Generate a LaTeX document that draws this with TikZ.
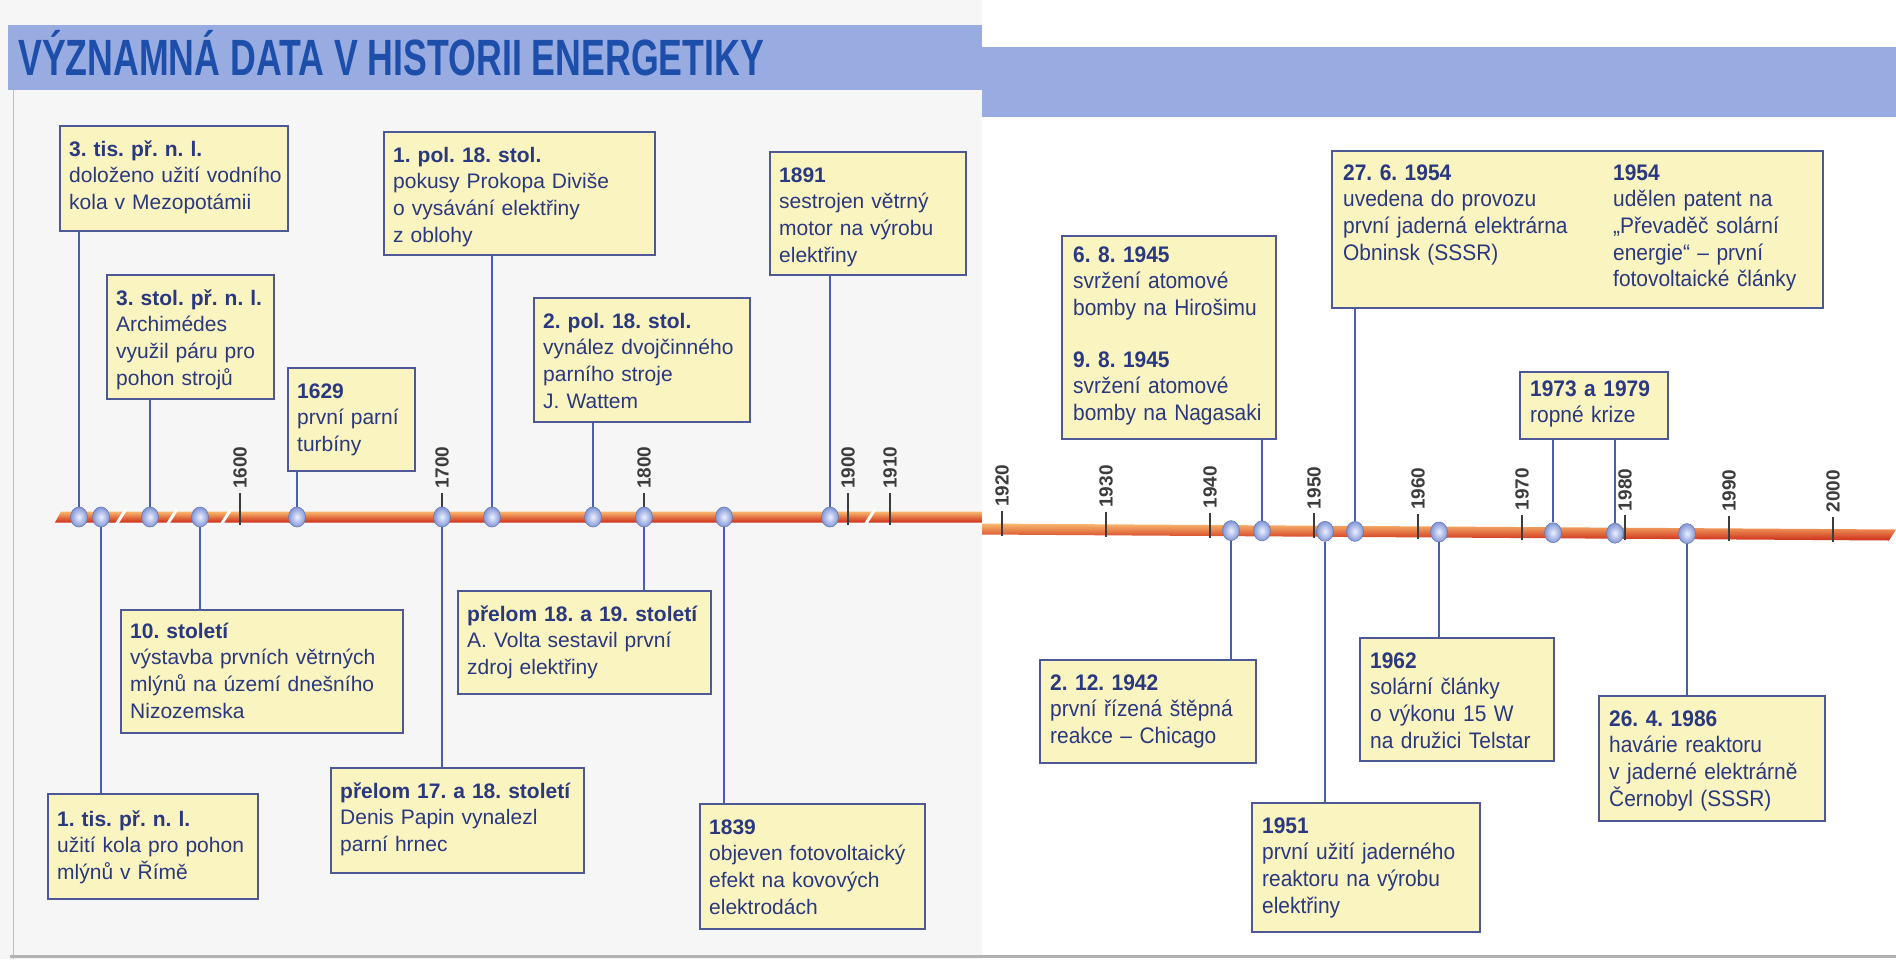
\documentclass[tikz,border=0pt]{standalone}
\usepackage{fontspec}
\setmainfont{Liberation Sans}
\newfontfamily\rightfam[FakeStretch=0.93]{Liberation Sans}
\newfontfamily\titlefam[FakeStretch=0.70]{Liberation Sans}
\usetikzlibrary{shapes.geometric}
\definecolor{boxfill}{RGB}{250,244,192}
\definecolor{boxline}{RGB}{78,88,150}
\definecolor{connc}{RGB}{70,95,180}
\definecolor{txtc}{RGB}{42,56,128}
\definecolor{bandc}{RGB}{152,172,226}
\definecolor{titlec}{RGB}{28,78,170}
\definecolor{dotin}{RGB}{235,240,255}
\definecolor{dotout}{RGB}{130,150,215}
\definecolor{tickc}{RGB}{60,60,60}
\definecolor{pagec}{RGB}{246,246,246}
\definecolor{barTop}{RGB}{250,185,110}
\definecolor{barMid}{RGB}{240,120,45}
\definecolor{barBot}{RGB}{205,45,25}
\newcommand{\lsize}{\frenchspacing\fontsize{21}{26.7}\selectfont}
\newcommand{\rsize}{\frenchspacing\rightfam\fontsize{22.5}{26.7}\selectfont}
\begin{document}
\begin{tikzpicture}[x=1pt,y=-1pt,
  box/.style={draw=boxline, line width=1.8pt, fill=boxfill, anchor=north west, inner sep=0pt},
  txt/.style={anchor=base west, inner sep=0pt, text width=330pt, align=left, text=txtc, font=\lsize},
  rtxt/.style={txt, font=\rsize},
  conn/.style={draw=connc, line width=1.6pt},
  dotn/.style={ellipse, shading=radial, inner color=dotin, outer color=dotout, draw=dotout!80!black, line width=0.6pt, minimum width=17pt, minimum height=20pt, inner sep=0pt},
  tickl/.style={draw=tickc, line width=1.3pt},
  year/.style={rotate=90, anchor=west, inner sep=0pt, text=tickc, font=\bfseries\fontsize{19}{19}\selectfont},
  slash/.style={draw=white, line width=3pt}]
\useasboundingbox (0,0) rectangle (1896,959);
% pages
\fill[pagec] (0,0) rectangle (982,959);
\fill[white] (982,0) rectangle (1896,959);
\draw[black!25, line width=1pt] (13,90) -- (13,959);
\draw[black!30, line width=3pt] (10,956) -- (1896,956);
% bands
\fill[bandc] (8,25) rectangle (982,90);
\fill[bandc] (982,47) rectangle (1896,117);
\node[anchor=base west, inner sep=0pt, text=titlec, font=\titlefam\bfseries\fontsize{51}{51}\selectfont] (title) at (18,75) {VÝZNAMNÁ DATA V HISTORII ENERGETIKY};
% timeline bars
\shade[top color=barTop, middle color=barMid, bottom color=barBot] (61,511.5) -- (982,511.5) -- (982,522.5) -- (55,522.5) -- cycle;
\shade[top color=barTop, middle color=barMid, bottom color=barBot] (982,523.5) -- (1896,529.5) -- (1889,540.5) -- (982,534.5) -- cycle;
% ticks and years, left
\foreach \x/\y in {240/1600,442/1700,644/1800,848/1900,890/1910}{
  \draw[tickl] (\x,493) -- (\x,525);
  \node[year] at (\x,489) {\y};
}
% ticks and years, right
\foreach \x/\yc/\y in {1002/529.1/1920,1106/529.8/1930,1210/530.5/1940,1314/531.2/1950,1418/531.9/1960,1522/532.5/1970,1625/533.2/1980,1729/533.9/1990,1833/534.6/2000}{
  \draw[tickl] (\x,\yc-18) -- (\x,\yc+7);
  \node[year] at (\x,\yc-22) {\y};
}
% breaks
\foreach \x in {121,172,226,870}{
  \draw[slash] (\x-5,525) -- (\x+5,509);
}
% dots left
\node[dotn] (d1) at (79,517) {};
\node[dotn] (d2) at (101,517) {};
\node[dotn] (d3) at (150,517) {};
\node[dotn] (d4) at (200,517) {};
\node[dotn] (d5) at (297,517) {};
\node[dotn] (d6) at (442,517) {};
\node[dotn] (d7) at (492,517) {};
\node[dotn] (d8) at (593,517) {};
\node[dotn] (d9) at (644,517) {};
\node[dotn] (d10) at (724,517) {};
\node[dotn] (d11) at (830,517) {};
% dots right
\node[dotn] (e1) at (1231,530.6) {};
\node[dotn] (e2) at (1262,530.8) {};
\node[dotn] (e3) at (1325,531.3) {};
\node[dotn] (e4) at (1355,531.4) {};
\node[dotn] (e5) at (1439,532.0) {};
\node[dotn] (e6) at (1553,532.7) {};
\node[dotn] (e7) at (1615,533.2) {};
\node[dotn] (e8) at (1687,533.6) {};
% boxes left
\node[box, minimum width=228pt, minimum height=105pt] (b1) at (59,125) {};
\node[box, minimum width=167pt, minimum height=124pt] (b2) at (106,274) {};
\node[box, minimum width=127pt, minimum height=103pt] (b3) at (287,367) {};
\node[box, minimum width=271pt, minimum height=123pt] (b4) at (383,131) {};
\node[box, minimum width=216pt, minimum height=124pt] (b5) at (533,297) {};
\node[box, minimum width=196pt, minimum height=123pt] (b6) at (769,151) {};
\node[box, minimum width=282pt, minimum height=123pt] (b7) at (120,609) {};
\node[box, minimum width=210pt, minimum height=105pt] (b8) at (47,793) {};
\node[box, minimum width=253pt, minimum height=103pt] (b9) at (457,590) {};
\node[box, minimum width=253pt, minimum height=105pt] (b10) at (330,767) {};
\node[box, minimum width=225pt, minimum height=125pt] (b11) at (699,803) {};
% boxes right
\node[box, minimum width=214pt, minimum height=203pt] (c1) at (1061,235) {};
\node[box, minimum width=491pt, minimum height=157pt] (c2) at (1331,150) {};
\node[box, minimum width=148pt, minimum height=67pt] (c3) at (1519,371) {};
\node[box, minimum width=216pt, minimum height=103pt] (c4) at (1039,659) {};
\node[box, minimum width=228pt, minimum height=129pt] (c5) at (1251,802) {};
\node[box, minimum width=194pt, minimum height=123pt] (c6) at (1359,637) {};
\node[box, minimum width=226pt, minimum height=125pt] (c7) at (1598,695) {};
% connectors
\draw[conn] (b1.south -| d1) -- (d1);
\draw[conn] (b2.south -| d3) -- (d3);
\draw[conn] (b3.south -| d5) -- (d5);
\draw[conn] (b4.south -| d7) -- (d7);
\draw[conn] (b5.south -| d8) -- (d8);
\draw[conn] (b6.south -| d11) -- (d11);
\draw[conn] (d4) -- (b7.north -| d4);
\draw[conn] (d2) -- (b8.north -| d2);
\draw[conn] (d9) -- (b9.north -| d9);
\draw[conn] (d6) -- (b10.north -| d6);
\draw[conn] (d10) -- (b11.north -| d10);
\draw[conn] (c1.south -| e2) -- (e2);
\draw[conn] (c2.south -| e4) -- (e4);
\draw[conn] (c3.south -| e6) -- (e6);
\draw[conn] (c3.south -| e7) -- (e7);
\draw[conn] (e1) -- (c4.north -| e1);
\draw[conn] (e3) -- (c5.north -| e3);
\draw[conn] (e5) -- (c6.north -| e5);
\draw[conn] (e8) -- (c7.north -| e8);
% texts left
\node[txt] (t1) at (69,156) {\textbf{3. tis. př. n. l.}\\doloženo užití vodního\\kola v Mezopotámii};
\node[txt] (t2) at (116,305) {\textbf{3. stol. př. n. l.}\\Archimédes\\využil páru pro\\pohon strojů};
\node[txt] (t3) at (297,398) {\textbf{1629}\\první parní\\turbíny};
\node[txt] (t4) at (393,162) {\textbf{1. pol. 18. stol.}\\pokusy Prokopa Diviše\\o vysávání elektřiny\\z oblohy};
\node[txt] (t5) at (543,328) {\textbf{2. pol. 18. stol.}\\vynález dvojčinného\\parního stroje\\J. Wattem};
\node[txt] (t6) at (779,182) {\textbf{1891}\\sestrojen větrný\\motor na výrobu\\elektřiny};
\node[txt] (t7) at (130,638) {\textbf{10. století}\\výstavba prvních větrných\\mlýnů na území dnešního\\Nizozemska};
\node[txt] (t8) at (57,826) {\textbf{1. tis. př. n. l.}\\užití kola pro pohon\\mlýnů v Římě};
\node[txt] (t9) at (467,621) {\textbf{přelom 18. a 19. století}\\A. Volta sestavil první\\zdroj elektřiny};
\node[txt] (t10) at (340,798) {\textbf{přelom 17. a 18. století}\\Denis Papin vynalezl\\parní hrnec};
\node[txt] (t11) at (709,834) {\textbf{1839}\\objeven fotovoltaický\\efekt na kovových\\elektrodách};
% texts right
\node[rtxt] (u1) at (1073,262) {\textbf{6. 8. 1945}\\svržení atomové\\bomby na Hirošimu\\[25pt]\textbf{9. 8. 1945}\\svržení atomové\\bomby na Nagasaki};
\node[rtxt] (u2) at (1343,180) {\textbf{27. 6. 1954}\\uvedena do provozu\\první jaderná elektrárna\\Obninsk (SSSR)};
\node[rtxt] (u2b) at (1613,180) {\textbf{1954}\\udělen patent na\\„Převaděč solární\\energie“ – první\\fotovoltaické články};
\node[rtxt] (u3) at (1530,396) {\textbf{1973 a 1979}\\ropné krize};
\node[rtxt] (u4) at (1050,690) {\textbf{2. 12. 1942}\\první řízená štěpná\\reakce – Chicago};
\node[rtxt] (u5) at (1262,833) {\textbf{1951}\\první užití jaderného\\reaktoru na výrobu\\elektřiny};
\node[rtxt] (u6) at (1370,668) {\textbf{1962}\\solární články\\o výkonu 15 W\\na družici Telstar};
\node[rtxt] (u7) at (1609,726) {\textbf{26. 4. 1986}\\havárie reaktoru\\v jaderné elektrárně\\Černobyl (SSSR)};
\end{tikzpicture}
\end{document}
